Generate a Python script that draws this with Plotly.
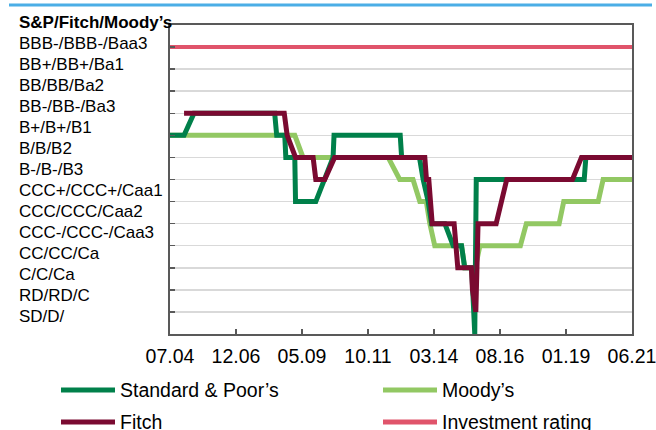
import plotly.graph_objects as go

# ---- data ----
rating_labels = ["SD/D/", "RD/RD/C", "C/C/Ca", "CC/CC/Ca", "CCC-/CCC-/Caa3", "CCC/CCC/Caa2",
                 "CCC+/CCC+/Caa1", "B-/B-/B3", "B/B/B2", "B+/B+/B1", "BB-/BB-/Ba3",
                 "BB/BB/Ba2", "BB+/BB+/Ba1", "BBB-/BBB-/Baa3"]
header_label = "S&P/Fitch/Moody\u2019s"

x_tick_dates = ["2004-07-01", "2006-12-01", "2009-05-01", "2011-10-01",
                "2014-03-01", "2016-08-01", "2019-01-01", "2021-06-01"]
x_tick_labels = ["07.04", "12.06", "05.09", "10.11", "03.14", "08.16", "01.19", "06.21"]

sp_dates = ["2004-07-01", "2005-01-05", "2005-05-18", "2008-05-01", "2008-05-28", "2008-09-13",
            "2008-09-27", "2009-01-25", "2009-02-04", "2009-11-02", "2010-06-21", "2010-07-04",
            "2012-12-05", "2012-12-24", "2013-08-19", "2013-10-08", "2013-12-14", "2014-01-29",
            "2014-07-25", "2014-11-14", "2015-03-05", "2015-04-17", "2015-07-19", "2015-08-29",
            "2015-09-18", "2019-09-01", "2019-09-23", "2021-06-01"]
sp_levels = [9, 9, 10, 10, 9, 9, 8, 8, 6, 6, 8, 9, 9, 8, 8, 7, 6, 5, 5, 4, 4, 3, 3, 0, 7, 7, 8, 8]

fitch_dates = ["2005-01-05", "2008-09-06", "2008-10-15", "2009-02-04", "2009-09-27", "2009-11-02",
               "2010-03-02", "2010-07-12", "2013-10-30", "2013-11-21", "2013-12-22", "2014-02-06",
               "2014-11-26", "2015-01-14", "2015-07-15", "2015-07-29", "2015-09-12", "2015-10-12",
               "2016-06-10", "2016-10-30", "2019-03-28", "2019-07-26", "2021-06-01"]
fitch_levels = [10, 10, 9, 8, 8, 7, 7, 8, 8, 7, 7, 5, 5, 3, 3, 2, 1, 5, 5, 7, 7, 8, 8]

moodys_dates = ["2004-07-01", "2009-01-25", "2009-05-15", "2012-06-27", "2012-11-28", "2013-05-25",
                "2013-08-24", "2013-11-19", "2014-01-05", "2014-03-12", "2015-03-05", "2015-04-17",
                "2015-09-05", "2015-11-06", "2017-04-30", "2017-07-19", "2018-09-30", "2018-12-01",
                "2020-03-06", "2020-05-11", "2021-06-01"]
moodys_levels = [9, 9, 8, 8, 7, 7, 6, 6, 5, 4, 4, 3, 3, 4, 4, 5, 5, 6, 6, 7, 7]

invest_dates = ["2004-07-01", "2021-06-01"]
invest_levels = [13, 13]

series_names = ["Standard & Poor\u2019s", "Moody\u2019s", "Fitch", "Investment rating"]

# ---- style ----
C_SP = "#00804A"
C_MO = "#92C863"
C_FI = "#7A0A31"
C_INV = "#E0546B"
FONT = "Liberation Sans, Arial, sans-serif"
AX = "#595959"

fig = go.Figure()
fig.add_trace(go.Scatter(x=invest_dates, y=invest_levels, mode="lines",
                         line=dict(color=C_INV, width=4), name=series_names[3]))
fig.add_trace(go.Scatter(x=moodys_dates, y=moodys_levels, mode="lines",
                         line=dict(color=C_MO, width=5), name=series_names[1]))
fig.add_trace(go.Scatter(x=sp_dates, y=sp_levels, mode="lines",
                         line=dict(color=C_SP, width=5), name=series_names[0]))
fig.add_trace(go.Scatter(x=fitch_dates, y=fitch_levels, mode="lines",
                         line=dict(color=C_FI, width=5), name=series_names[2]))

L, R, T, B = 170, 24, 25, 96
W, H = 656, 430
pw, ph = W - L - R, H - T - B


def px2x(px):
    return (px - L) / pw


def py2y(py):
    return (H - B - py) / ph


annotations = []
LABEL_TOP, LABEL_STEP = 22, 21.07   # pixel centres of the left label column
all_labels = ["<b>" + header_label + "</b>"] + rating_labels[::-1]
for k, lab in enumerate(all_labels):
    annotations.append(dict(text=lab, xref="paper", yref="paper", x=px2x(17),
                            y=py2y(LABEL_TOP + k * LABEL_STEP),
                            xanchor="left", yanchor="middle", showarrow=False,
                            font=dict(family=FONT, size=17, color="#000000")))

shapes = [dict(type="line", xref="paper", yref="paper", x0=px2x(9), x1=px2x(652),
               y0=py2y(5), y1=py2y(5), line=dict(color="#4BAEE6", width=3))]

# manual legend, two columns x two rows
leg_items = [(series_names[0], C_SP, 61, 390), (series_names[1], C_MO, 383, 390),
             (series_names[2], C_FI, 61, 422), (series_names[3], C_INV, 383, 422)]
for name, col, lx, ly in leg_items:
    shapes.append(dict(type="line", xref="paper", yref="paper", x0=px2x(lx), x1=px2x(lx + 54),
                       y0=py2y(ly), y1=py2y(ly), line=dict(color=col, width=5)))
    annotations.append(dict(text=name, xref="paper", yref="paper", x=px2x(lx + 57), y=py2y(ly),
                            xanchor="left", yanchor="middle", showarrow=False,
                            font=dict(family=FONT, size=19.5, color="#000000")))

fig.update_layout(
    width=W, height=H, autosize=False, margin=dict(l=L, r=R, t=T, b=B, pad=0, autoexpand=False),
    paper_bgcolor="white", plot_bgcolor="white", showlegend=False,
    font=dict(family=FONT, color="#000000"),
    annotations=annotations, shapes=shapes,
    xaxis=dict(type="date", range=[x_tick_dates[0], x_tick_dates[-1]], automargin=False,
               tickmode="array", tickvals=x_tick_dates, ticktext=x_tick_labels,
               ticks="inside", ticklen=5, tickwidth=1.5, tickcolor=AX,
               showgrid=False, zeroline=False,
               showline=True, linecolor=AX, linewidth=2, mirror=True,
               tickfont=dict(family=FONT, size=19.5, color="#000000"),
               ticklabelstandoff=4, ticklabeloverflow="allow"),
    yaxis=dict(range=[0, 14], tickmode="linear", tick0=0, dtick=1, automargin=False,
               showticklabels=False, ticks="inside", ticklen=5, tickwidth=1.5, tickcolor=AX,
               showgrid=True, gridcolor="#D9D9D9", gridwidth=1.5, zeroline=False,
               showline=True, linecolor=AX, linewidth=2, mirror=True),
)

fig.write_html(
    "out.html",
    config={"responsive": False, "displayModeBar": False, "staticPlot": True},
    post_script=("document.documentElement.style.overflow='hidden';"
                 "document.body.style.overflow='hidden';"
                 "document.body.style.margin='0';"),
)
